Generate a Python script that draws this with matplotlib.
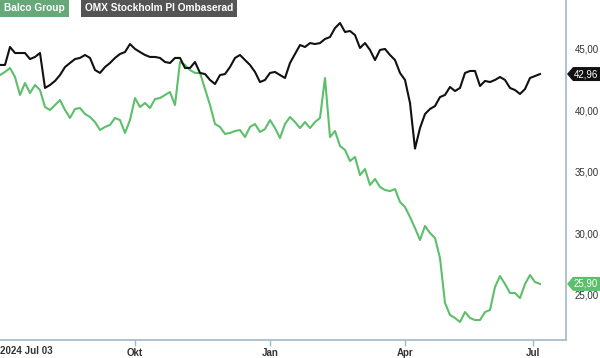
import matplotlib
matplotlib.use("Agg")
import matplotlib.pyplot as plt
from matplotlib.patches import Polygon
from matplotlib.transforms import blended_transform_factory

#######################################################################################################################
# Data (one sample every ~2.4 trading days, 2024-07-03 .. 2025-07)
#######################################################################################################################
omx = [43.70, 43.70, 45.16, 44.67, 44.67, 44.67, 44.18, 44.35, 44.67, 41.83,
       42.07, 42.40, 42.88, 43.53, 43.86, 44.18, 44.27, 44.51, 44.27, 43.29,
       43.05, 43.53, 43.86, 44.27, 44.59, 44.75, 45.40, 45.00, 44.75, 44.51,
       44.35, 44.35, 44.27, 43.94, 43.86, 44.27, 44.27, 43.45, 43.45, 43.94,
       43.05, 42.96, 42.48, 42.15, 42.88, 42.96, 43.53, 44.27, 44.51, 44.10,
       43.70, 43.13, 42.31, 42.48, 43.05, 43.13, 42.88, 42.64, 43.86, 44.59,
       45.32, 45.16, 45.48, 45.40, 45.48, 45.81, 45.97, 46.70, 47.11, 46.38,
       46.46, 46.13, 45.08, 45.48, 44.92, 44.10, 44.92, 45.00, 44.51, 44.10,
       43.05, 42.48, 40.61, 36.90, 38.57, 39.71, 40.12, 40.36, 41.09, 41.26,
       41.91, 41.58, 41.83, 43.05, 43.21, 43.21, 41.99, 42.40, 42.31, 42.48,
       42.72, 42.48, 41.83, 41.66, 41.34, 41.74, 42.64, 42.80, 42.96]

balco = [42.88, 43.13, 43.45, 42.72, 41.26, 42.23, 41.42, 42.07, 41.66, 40.28,
         40.04, 40.44, 40.85, 40.04, 39.39, 40.12, 40.20, 39.71, 39.47, 39.06,
         38.41, 38.66, 38.82, 39.39, 39.22, 38.17, 39.22, 41.01, 40.28, 40.61,
         40.20, 40.93, 41.01, 41.26, 41.50, 40.44, 43.94, 43.70, 43.29, 43.05,
         43.05, 41.74, 40.44, 38.90, 38.66, 38.09, 38.17, 38.33, 38.41, 37.84,
         38.66, 38.90, 38.25, 38.49, 39.22, 38.57, 37.76, 38.90, 39.47, 39.06,
         38.57, 39.06, 38.57, 39.06, 39.39, 42.64, 37.84, 38.33, 37.11, 36.79,
         35.89, 36.22, 34.75, 35.24, 33.94, 34.43, 33.78, 33.53, 33.45, 33.61,
         32.56, 32.15, 31.34, 30.44, 29.47, 30.61, 30.04, 29.63, 28.00, 24.35,
         23.37, 23.13, 22.80, 23.61, 23.13, 22.96, 22.96, 23.61, 23.78, 25.65,
         26.54, 25.89, 25.16, 25.16, 24.75, 25.89, 26.62, 26.05, 25.90]

tick_pos = [27, 54, 81, 106.6]
tick_labels = ["Okt", "Jan", "Apr", "Jul"]
start_label = "2024 Jul 03"
y_ticks = [25, 30, 35, 40, 45]

omx_name = "OMX Stockholm PI Ombaserad"
balco_name = "Balco Group"

GREEN = "#5cbf6a"
GREEN_BOX = "#67a878"
AXIS = "#a3b8c6"
TEXT = "#333333"

plt.rcParams["font.family"] = ["Liberation Sans", "DejaVu Sans"]

fig = plt.figure(figsize=(6.0, 3.58), dpi=100)
ax = fig.add_axes([0.0, 1 - 340 / 358, 566 / 600, 340 / 358])

x = range(len(omx))
ax.plot(x, balco, color=GREEN, lw=1.5, solid_joinstyle="round")
ax.plot(x, omx, color="#111111", lw=1.5, solid_joinstyle="round")

ax.set_xlim(0, 113.2)
ax.set_ylim(21.34, 48.98)

# spines / ticks
for s in ["top", "left"]:
    ax.spines[s].set_visible(False)
for s in ["right", "bottom"]:
    ax.spines[s].set_color(AXIS)
    ax.spines[s].set_linewidth(1.2)

ax.yaxis.tick_right()
ax.set_yticks(y_ticks)
ax.set_yticklabels([f"{v:.2f}".replace(".", ",") for v in y_ticks])
ax.tick_params(axis="y", length=0, pad=6, labelsize=7.0, labelcolor=TEXT)

ax.set_xticks(tick_pos)
ax.set_xticklabels(tick_labels, fontweight="bold")
ax.tick_params(axis="x", length=4.5, width=1, color=AXIS, pad=1,
               labelsize=7.0, labelcolor=TEXT)
ax.text(0, -0.017, start_label, transform=ax.get_xaxis_transform(),
        ha="left", va="top", fontsize=7.0, fontweight="bold", color=TEXT)

# last-value tags on the right axis
tr = blended_transform_factory(ax.transAxes, ax.transData)
px = 1 / 566
py = 1 / 12.3
for val, col in [(omx[-1], "#111111"), (balco[-1], GREEN)]:
    pts = [(1 + 1 * px, val), (1 + 7 * px, val + 7 * py), (1 + 34 * px, val + 7 * py),
           (1 + 34 * px, val - 7 * py), (1 + 7 * px, val - 7 * py)]
    ax.add_patch(Polygon(pts, closed=True, facecolor=col, edgecolor="none",
                         transform=tr, clip_on=False))
    ax.text(1 + 20 * px, val, f"{val:.2f}".replace(".", ","), transform=tr,
            ha="center", va="center", fontsize=7.0, color="white", clip_on=False)

# legend boxes top-left
fig.text(4 / 600, 1 - 8 / 358, balco_name, ha="left", va="center", fontsize=7.3,
         fontweight="bold", color="white",
         bbox=dict(boxstyle="square,pad=0.4", fc=GREEN_BOX, ec="none"))
fig.text(85 / 600, 1 - 8 / 358, omx_name, ha="left", va="center", fontsize=7.3,
         fontweight="bold", color="white",
         bbox=dict(boxstyle="square,pad=0.4", fc="#555555", ec="none"))

fig.savefig("out.png", dpi=100)
